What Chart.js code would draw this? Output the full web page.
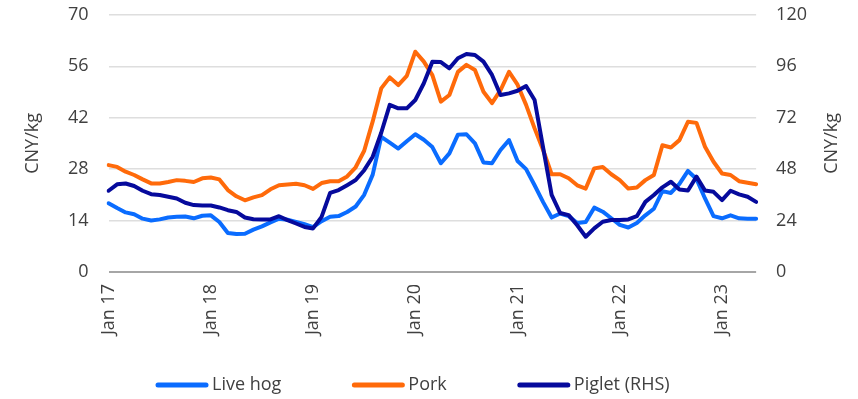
<!DOCTYPE html>
<html>
<head>
<meta charset="utf-8">
<script src="https://cdn.jsdelivr.net/npm/chart.js@4"></script>
<style>
  html, body { margin: 0; padding: 0; background: #fff; }
  #wrap { width: 858px; height: 399px; }
</style>
</head>
<body>
<div id="wrap"><canvas id="pigChart"></canvas></div>
<script>
// Monthly categories, Jan 17 .. May 23
const monthNames = ['Jan', 'Feb', 'Mar', 'Apr', 'May', 'Jun', 'Jul', 'Aug', 'Sep', 'Oct', 'Nov', 'Dec'];
const years = ['17', '18', '19', '20', '21', '22', '23'];
const months = [];
years.forEach(y => monthNames.forEach(m => months.push(m + ' ' + y)));
months.length = 77;

// CNY/kg, left axis
const liveHog = [
  18.7, 17.4, 16.2, 15.7, 14.5, 14.0, 14.3, 14.8, 15.0, 15.1, 14.6, 15.3,
  15.4, 13.6, 10.6, 10.3, 10.4, 11.5, 12.4, 13.5, 14.5, 14.2, 13.6, 13.0,
  12.2, 13.8, 15.0, 15.2, 16.3, 17.8, 21.0, 26.5, 36.8, 35.2, 33.6, 35.6,
  37.5, 36.0, 34.0, 29.6, 32.3, 37.4, 37.5, 35.0, 29.8, 29.6, 33.2, 35.9,
  30.2, 28.0, 23.6, 19.0, 14.8, 15.9, 15.2, 13.3, 13.6, 17.5, 16.4, 14.6,
  12.8, 12.1, 13.3, 15.4, 17.2, 22.0, 21.5, 24.0, 27.5, 25.3, 20.0, 15.2,
  14.6, 15.4, 14.6, 14.5, 14.5
];
const pork = [
  29.1, 28.6, 27.3, 26.4, 25.2, 24.1, 24.1, 24.5, 25.0, 24.8, 24.5, 25.5,
  25.7, 25.2, 22.3, 20.6, 19.5, 20.3, 20.9, 22.5, 23.6, 23.8, 24.0, 23.6,
  22.6, 24.2, 24.7, 24.7, 26.0, 28.5, 33.0, 41.0, 50.0, 53.0, 50.9, 53.4,
  60.0, 57.3, 53.6, 46.4, 48.2, 54.5, 56.4, 55.0, 49.1, 46.0, 49.5, 54.5,
  51.0, 45.5, 39.1, 33.2, 26.6, 26.6, 25.5, 23.6, 22.7, 28.2, 28.6, 26.6,
  25.0, 22.7, 23.0, 25.0, 26.4, 34.5, 33.9, 35.9, 40.9, 40.6, 34.1, 30.0,
  26.8, 26.4, 24.7, 24.3, 23.9
];
// CNY/kg, right axis
const piglet = [
  37.9, 40.9, 41.3, 40.1, 37.9, 36.3, 35.9, 35.1, 34.3, 32.3, 31.2, 31.0,
  31.0, 30.1, 28.8, 28.0, 25.4, 24.6, 24.5, 24.5, 26.0, 24.2, 22.6, 21.0,
  20.3, 25.7, 36.9, 38.2, 40.5, 42.9, 47.5, 53.8, 65.0, 78.0, 76.4, 76.4,
  80.3, 88.1, 98.2, 98.0, 95.1, 99.8, 101.8, 101.3, 98.2, 92.0, 82.6, 83.4,
  84.6, 86.8, 80.3, 58.0, 36.0, 27.5, 26.5, 21.8, 16.4, 20.3, 23.4, 24.2,
  24.2, 24.5, 26.0, 32.7, 35.9, 39.5, 42.1, 38.5, 38.0, 44.5, 38.0, 37.4,
  33.5, 37.9, 36.2, 35.1, 32.7
];

const leftAxis = { min: 0, max: 70, step: 14 };
const rightAxis = { min: 0, max: 120, step: 24 };
const axisTitle = 'CNY/kg';

const textColor = '#404040';
const fontFamily = '"Open Sans", sans-serif';
Chart.defaults.font.family = fontFamily;
Chart.defaults.font.size = 18;
Chart.defaults.color = textColor;

function line(label, data, color, axis, order) {
  return {
    label: label,
    data: data,
    yAxisID: axis,
    borderColor: color,
    backgroundColor: color,
    borderWidth: 4,
    borderJoinStyle: 'round',
    borderCapStyle: 'round',
    pointRadius: 0,
    tension: 0,
    order: order
  };
}

// keep the wide tick gap from pushing the plot down
function trimPadding(scale) {
  scale.paddingTop = 11;
  scale.paddingBottom = 11;
}

// axis titles (both read bottom-to-top) and the legend row
const extras = {
  id: 'extras',
  afterDraw(chart) {
    const ctx = chart.ctx;
    const area = chart.chartArea;
    const midY = (area.top + area.bottom) / 2;
    ctx.save();
    ctx.font = '18px ' + fontFamily;
    ctx.fillStyle = textColor;
    ctx.textAlign = 'center';
    ctx.textBaseline = 'middle';
    [33, 832].forEach(x => {
      ctx.save();
      ctx.translate(x, midY);
      ctx.rotate(-Math.PI / 2);
      ctx.fillText(axisTitle, 0, 0);
      ctx.restore();
    });

    ctx.textAlign = 'left';
    let x = 156;
    const y = 385;
    chart.data.datasets.forEach(ds => {
      ctx.strokeStyle = ds.borderColor;
      ctx.lineWidth = 5;
      ctx.lineCap = 'round';
      ctx.beginPath();
      ctx.moveTo(x + 2, y);
      ctx.lineTo(x + 50, y);
      ctx.stroke();
      x += 56;
      ctx.fillText(ds.label, x, y);
      x += ctx.measureText(ds.label).width + 71;
    });
    ctx.restore();
  }
};

new Chart(document.getElementById('pigChart').getContext('2d'), {
  type: 'line',
  data: {
    labels: months,
    datasets: [
      line('Live hog', liveHog, '#0a6cff', 'y', 3),
      line('Pork', pork, '#ff6a0a', 'y', 2),
      line('Piglet (RHS)', piglet, '#060a9c', 'y1', 1)
    ]
  },
  options: {
    responsive: true,
    maintainAspectRatio: false,
    animation: false,
    layout: { padding: { left: 48, right: 31, top: 15, bottom: 52 } },
    plugins: {
      legend: { display: false },
      tooltip: { enabled: false }
    },
    scales: {
      x: {
        grid: { display: false, drawTicks: false },
        border: { display: false },
        ticks: {
          autoSkip: false,
          maxRotation: 90,
          minRotation: 90,
          padding: 12,
          font: { size: 18 },
          callback: (val, i) => (i % 12 === 0 ? months[i] : '')
        }
      },
      y: {
        position: 'left',
        min: leftAxis.min,
        max: leftAxis.max,
        border: { display: false },
        afterFit: trimPadding,
        grid: {
          drawTicks: false,
          color: c => (c.tick.value === 0 ? '#a6a6a6' : '#dedede'),
          lineWidth: c => (c.tick.value === 0 ? 2 : 1.5)
        },
        ticks: { stepSize: leftAxis.step, padding: 20 }
      },
      y1: {
        position: 'right',
        min: rightAxis.min,
        max: rightAxis.max,
        border: { display: false },
        afterFit: trimPadding,
        grid: { display: false, drawTicks: false },
        ticks: { stepSize: rightAxis.step, padding: 20 }
      }
    }
  },
  plugins: [extras]
});
</script>
</body>
</html>
